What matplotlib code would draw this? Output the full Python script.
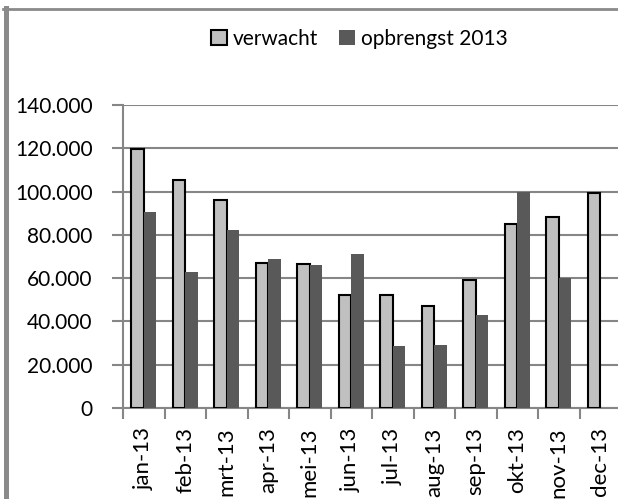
import numpy as np
import matplotlib.pyplot as plt
from matplotlib.lines import Line2D

plt.rcParams['font.family'] = ['Lato', 'DejaVu Sans']

maanden = ['jan-13', 'feb-13', 'mrt-13', 'apr-13', 'mei-13', 'jun-13',
           'jul-13', 'aug-13', 'sep-13', 'okt-13', 'nov-13', 'dec-13']
verwacht = [119500, 105500, 96300, 67200, 66500, 52400,
            52400, 47000, 59300, 85200, 88300, 99200]
opbrengst = [90400, 63000, 82300, 69000, 66300, 71300,
             28700, 29000, 42800, 100000, 60200, 0]
y_ticks = [0, 20000, 40000, 60000, 80000, 100000, 120000, 140000]
y_labels = ['0', '20.000', '40.000', '60.000', '80.000', '100.000', '120.000', '140.000']

W, H = 618, 499
fs = 15
fig = plt.figure(figsize=(W / 100, H / 100), dpi=100)
ax = fig.add_axes([123 / W, 1 - 408 / H, (621 - 123) / W, (408 - 105) / H])

x = np.arange(len(maanden))
bw = 0.3
ax.bar(x - bw / 2, verwacht, bw, color='#c0c0c0', edgecolor='black', linewidth=1.5,
       label='verwacht', zorder=3)
ax.bar(x + bw / 2, opbrengst, bw, color='#595959', edgecolor='none',
       label='opbrengst 2013', zorder=3)

ax.set_xlim(-0.5, len(maanden) - 0.5)
ax.set_ylim(0, 140000)
ax.set_yticks(y_ticks)
ax.set_yticklabels(y_labels, fontsize=fs)
ax.yaxis.grid(True, color='#868686', linewidth=1.5, zorder=0)

ax.set_xticks(x - 0.5, minor=False)
ax.set_xticklabels([])
ax.set_xticks(x, minor=True)
ax.set_xticklabels(maanden, minor=True, rotation=90, fontsize=16, va='top')
ax.tick_params(axis='x', which='minor', length=0, pad=14)
ax.tick_params(axis='x', which='major', length=8, width=1.5, color='#868686', direction='out')
ax.tick_params(axis='y', length=8, width=1.5, color='#868686', direction='out', pad=14)

for s in ['top', 'right']:
    ax.spines[s].set_visible(False)
for s in ['left', 'bottom']:
    ax.spines[s].set_color('#868686')
    ax.spines[s].set_linewidth(1.5)

ax.legend(loc='upper left', bbox_to_anchor=(211 / W, 1 - 29 / H),
          bbox_transform=fig.transFigure, ncol=2, frameon=False, fontsize=fs,
          handlelength=0.75, handleheight=0.75, handletextpad=0.3, columnspacing=1.0,
          borderaxespad=0, borderpad=0)

# rand van het grafiekgebied
fig.add_artist(Line2D([5.5 / W, 5.5 / W], [0, 1 - 8 / H], transform=fig.transFigure,
                      color='#8a8a8a', linewidth=3.6))
fig.add_artist(Line2D([3 / W, 1], [1 - 9 / H, 1 - 9 / H], transform=fig.transFigure,
                      color='#8a8a8a', linewidth=2))

fig.savefig('out.png', dpi=100)
